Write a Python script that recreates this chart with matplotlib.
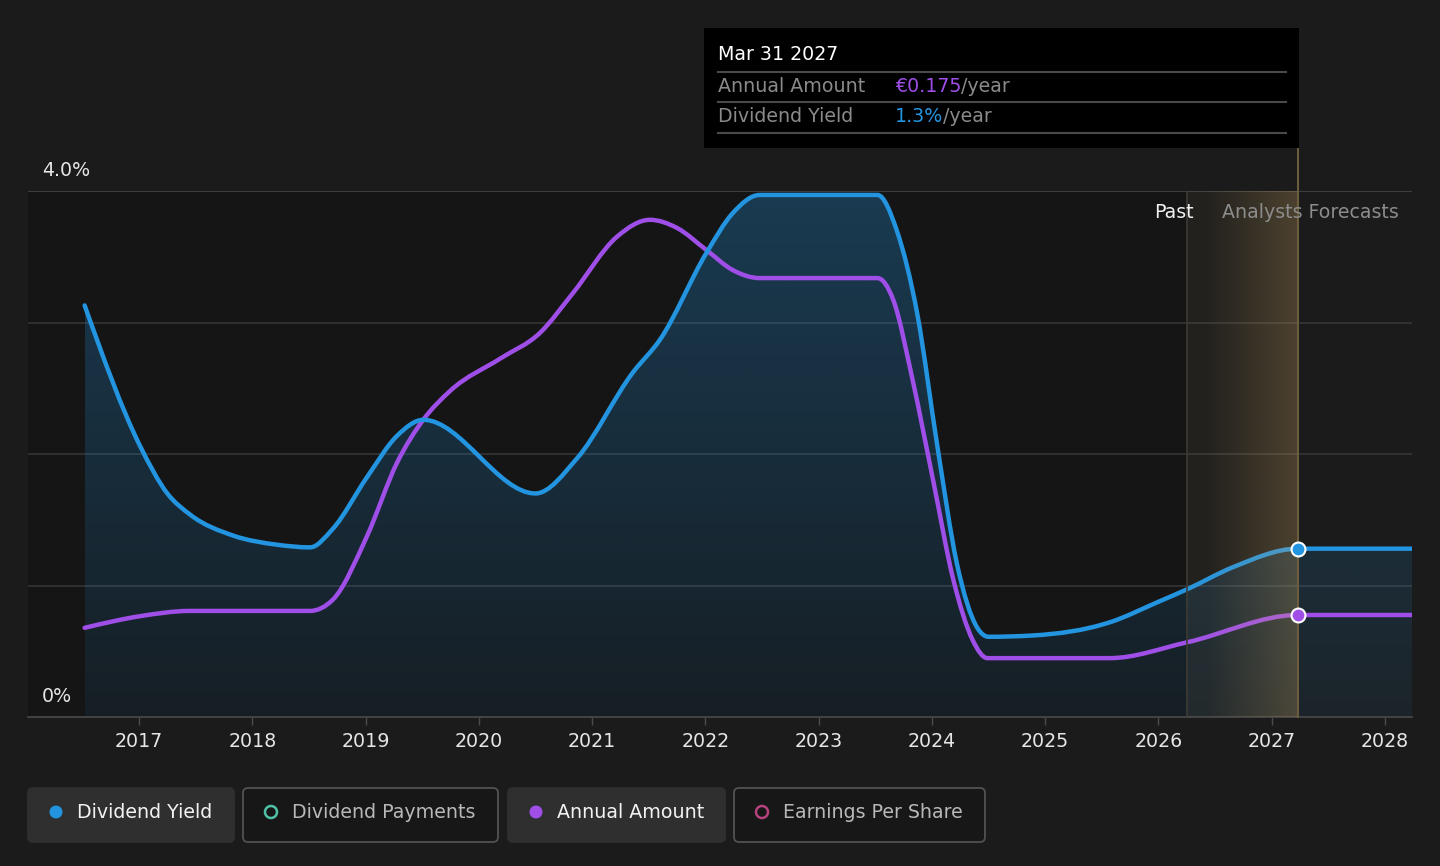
import numpy as np
import matplotlib
matplotlib.use('Agg')
import matplotlib.pyplot as plt
from matplotlib.path import Path
from matplotlib.patches import PathPatch, Rectangle, FancyBboxPatch, Circle
import matplotlib.transforms as mtransforms
from matplotlib.lines import Line2D
from matplotlib.text import Annotation

# ---------------- data ----------------
yield_years = [2016.52, 2017.01, 2017.25, 2017.45, 2017.83, 2018.22, 2018.51,
               2018.71, 2019.01, 2019.28, 2019.51, 2020.50, 2020.87, 2021.36,
               2021.60, 2022.01, 2022.24, 2022.48, 2023.52, 2023.69, 2023.87,
               2024.05, 2024.22, 2024.40, 2024.50, 2024.89, 2025.57, 2026.01, 2026.25,
               2026.66, 2027.23, 2028.24]
yield_pct = [3.13, 2.06, 1.70, 1.54, 1.38, 1.31, 1.29,
             1.43, 1.82, 2.14, 2.26, 1.70, 1.97, 2.62,
             2.87, 3.53, 3.83, 3.97, 3.97, 3.70, 3.07,
             2.05, 1.17, 0.68, 0.61, 0.62, 0.72, 0.88, 0.97,
             1.14, 1.28, 1.28]

amount_years = [2016.52, 2017.01, 2017.45, 2018.51, 2018.71, 2019.01, 2019.28, 2019.51,
                2019.75, 2020.19, 2020.54, 2020.83, 2021.22, 2021.51, 2021.75, 2022.01,
                2022.24, 2022.48, 2023.52, 2023.66, 2023.83, 2024.01, 2024.19, 2024.36,
                2024.49, 2025.57, 2026.25, 2027.23, 2028.24]
amount_eur = [0.153, 0.173, 0.182, 0.182, 0.201, 0.309, 0.437, 0.510,
              0.560, 0.615, 0.659, 0.727, 0.824, 0.853, 0.839, 0.801,
              0.767, 0.753, 0.753, 0.715, 0.578, 0.407, 0.235, 0.132,
              0.101, 0.101, 0.128, 0.175, 0.175]

tick_years = list(range(2017, 2029))
y_tick_labels = {0: '0%', 4: '4.0%'}
legend_labels = ['Dividend Yield', 'Dividend Payments', 'Annual Amount', 'Earnings Per Share']
tooltip_date = 'Mar 31 2027'
tooltip_rows = [('Annual Amount', '€0.175'), ('Dividend Yield', '1.3%')]
past_end = 2026.25
band_start = 2026.44
forecast_x = 2027.23
AMT_MAX = 0.9024   # top of the (hidden) annual amount scale, €
Y_MAX = 4.0

# ---------------- style ----------------
W, H = 1440, 866
BG = '#1b1b1b'
PAST_BG = '#151515'
BLUE = '#2394df'
PURPLE = '#9f4fe8'
TEAL = '#4fc1a6'
PINK = '#b4427e'
GRID = '#383838'
FS = 13.7

plt.rcParams['font.family'] = ['DejaVu Sans']

fig = plt.figure(figsize=(W / 100, H / 100), dpi=100, facecolor=BG)

def fx(px):
    return px / W

def fy(py):
    return 1 - py / H

ax_l, ax_r, ax_t, ax_b = 28, 1412, 191, 717
ax = fig.add_axes([fx(ax_l), fy(ax_b), fx(ax_r) - fx(ax_l), fy(ax_t) - fy(ax_b)])
ax.set_facecolor(BG)
px_per_year = 113.27
x_left = 2017 + (ax_l - 139) / px_per_year
x_right = 2017 + (ax_r - 139) / px_per_year

for s in ['top', 'left', 'right']:
    ax.spines[s].set_visible(False)
ax.spines['bottom'].set_color('#4a4a4a')
ax.spines['bottom'].set_linewidth(1.2)
ax.set_yticks([])
ax.set_xticks(tick_years)
ax.set_xticklabels([str(y) for y in tick_years])
ax.tick_params(axis='x', length=6, width=1, color='#4a4a4a', labelcolor='#e6e6e6',
               labelsize=FS, pad=5)

# past background
ax.add_patch(Rectangle((x_left, 0), past_end - x_left, Y_MAX, facecolor=PAST_BG,
                       edgecolor='none', zorder=0))
# gridlines
for g in [1, 2, 3, 4]:
    ax.axhline(g, color=GRID if g < 4 else '#4a4a4a', lw=1.1, zorder=1)


def monotone_path(x, y):
    x = np.asarray(x, float)
    y = np.asarray(y, float)
    n = len(x)
    h = np.diff(x)
    s = np.diff(y) / h
    t = np.zeros(n)
    for i in range(1, n - 1):
        p = (s[i - 1] * h[i] + s[i] * h[i - 1]) / (h[i - 1] + h[i])
        t[i] = (np.sign(s[i - 1]) + np.sign(s[i])) * min(abs(s[i - 1]), abs(s[i]), 0.5 * abs(p))
    t[0] = (3 * s[0] - t[1]) / 2
    t[-1] = (3 * s[-1] - t[-2]) / 2
    verts = [(x[0], y[0])]
    codes = [Path.MOVETO]
    for i in range(n - 1):
        d = h[i] / 3
        verts += [(x[i] + d, y[i] + d * t[i]), (x[i + 1] - d, y[i + 1] - d * t[i + 1]),
                  (x[i + 1], y[i + 1])]
        codes += [Path.CURVE4] * 3
    return verts, codes

# yield fill with vertical gradient (stronger at top)
yv, yc = monotone_path(yield_years, yield_pct)
fv = yv + [(yield_years[-1], 0), (yield_years[0], 0), (yield_years[0], yield_pct[0])]
fc = yc + [Path.LINETO, Path.LINETO, Path.CLOSEPOLY]
fill_patch = PathPatch(Path(fv, fc), facecolor='none', edgecolor='none', transform=ax.transData)
ax.add_patch(fill_patch)
grad = np.zeros((256, 2, 4))
grad[..., 0] = 35 / 255
grad[..., 1] = 148 / 255
grad[..., 2] = 223 / 255
grad[..., 3] = np.linspace(0.30, 0.08, 256)[:, None]
im = ax.imshow(grad, extent=(yield_years[0], yield_years[-1], 0, Y_MAX), origin='upper',
               aspect='auto', zorder=2, interpolation='bilinear')
im.set_clip_path(fill_patch)

# amount line (own scale)
amt_trans = mtransforms.Affine2D().scale(1, Y_MAX / AMT_MAX) + ax.transData
av, ac = monotone_path(amount_years, amount_eur)
ax.add_patch(PathPatch(Path(av, ac), facecolor='none', edgecolor=PURPLE, lw=3.2,
                       capstyle='round', joinstyle='round', transform=amt_trans, zorder=3))
# yield line
ax.add_patch(PathPatch(Path(yv, yc), facecolor='none', edgecolor=BLUE, lw=3.2,
                       capstyle='round', joinstyle='round', transform=ax.transData, zorder=4))

# forecast band
ax.add_patch(Rectangle((past_end, 0), band_start - past_end, Y_MAX, facecolor='#c8a060',
                       alpha=0.05, edgecolor='none', zorder=5))
bgrad = np.zeros((2, 256, 4))
bgrad[..., 0] = 210 / 255
bgrad[..., 1] = 170 / 255
bgrad[..., 2] = 100 / 255
bgrad[..., 3] = np.linspace(0.05, 0.27, 256)[None, :]
ax.imshow(bgrad, extent=(band_start, forecast_x, 0, Y_MAX), aspect='auto', zorder=5,
          interpolation='bilinear')

ax.axvline(past_end, color='#3e3b35', lw=1.2, zorder=6)
ax.plot([forecast_x, forecast_x], [0, Y_MAX * (ax_b - 148) / (ax_b - ax_t)], color='#6e5e3e',
        lw=1.4, zorder=6, clip_on=False)

ax.set_xlim(x_left, x_right)
ax.set_ylim(0, Y_MAX)

# markers at forecast point
fi = yield_years.index(forecast_x)
ai = amount_years.index(forecast_x)
ax.plot([forecast_x], [yield_pct[fi]], 'o', ms=10, mfc=BLUE, mec='white', mew=1.5, zorder=8,
        clip_on=False)
ax.plot([forecast_x], [amount_eur[ai]], 'o', ms=10, mfc=PURPLE, mec='white', mew=1.5,
        zorder=8, clip_on=False, transform=amt_trans)

# y labels
lab_x = (42 - ax_l) / (ax_r - ax_l)
for v, lab in y_tick_labels.items():
    ax.annotate(lab, xy=(lab_x, v), xycoords=('axes fraction', 'data'), xytext=(0, 21),
                textcoords='offset pixels', va='center', ha='left', color='#e6e6e6',
                fontsize=FS, zorder=9, annotation_clip=False)

# past / forecast labels
ax.annotate('Past', xy=(past_end, Y_MAX), xytext=(7, -21), textcoords='offset pixels',
            ha='right', va='center', color='#f0f0f0', fontsize=FS, zorder=9)
ax.annotate('Analysts Forecasts', xy=(past_end, Y_MAX), xytext=(35, -21),
            textcoords='offset pixels', ha='left', va='center', color='#8c8c8c',
            fontsize=FS, zorder=9)

# ---------------- tooltip ----------------
fig.patches.append(Rectangle((fx(704), fy(148)), fx(1299) - fx(704), fy(28) - fy(148),
                             transform=fig.transFigure, facecolor='black', edgecolor='none',
                             zorder=10))
fig.text(fx(718), fy(55), tooltip_date, color='white', fontsize=FS, va='center', ha='left',
         zorder=11)
for yy in [72, 102, 133]:
    fig.add_artist(Line2D([fx(718), fx(1286)], [fy(yy), fy(yy)], color='#4a4a4a', lw=1.5,
                          transform=fig.transFigure, zorder=11))
row_colors = [PURPLE, BLUE]
for (name, val), yy, col in zip(tooltip_rows, [86, 116], row_colors):
    fig.text(fx(718), fy(yy), name, color='#8a8a8a', fontsize=FS, va='center', ha='left',
             zorder=11)
    t1 = fig.text(fx(895), fy(yy), val, color=col, fontsize=FS, va='center', ha='left',
                  zorder=11)
    an = Annotation('/year', xy=(1, 0.5), xycoords=t1, va='center', ha='left',
                    color='#8a8a8a', fontsize=FS, annotation_clip=False)
    an.set_zorder(12)
    fig.add_artist(an)

# ---------------- legend ----------------
ident = mtransforms.IdentityTransform()
buttons = [(28, 234, True, BLUE), (243, 498, False, TEAL), (508, 725, True, PURPLE),
           (734, 985, False, PINK)]
by0, by1 = 788, 842
for (x0, x1, active, col), lab in zip(buttons, legend_labels):
    box = FancyBboxPatch((x0, H - by1), x1 - x0, by1 - by0,
                         boxstyle='round,pad=0,rounding_size=5',
                         facecolor='#2f2f2f' if active else '#171717',
                         edgecolor='#2f2f2f' if active else '#525252', lw=1.3,
                         transform=ident, zorder=2)
    fig.patches.append(box)
    cx = x0 + 28
    cy = H - 812
    if active:
        c = Circle((cx, cy), 6.5, facecolor=col, edgecolor='none', transform=ident, zorder=3)
    else:
        c = Circle((cx, cy), 6, facecolor='none', edgecolor=col, lw=1.8, transform=ident,
                   zorder=3)
    fig.patches.append(c)
    fig.text(fx(x0 + 49), fy(812), lab, color='#f2f2f2' if active else '#b8b8b8',
             fontsize=FS, va='center', ha='left', zorder=4)

fig.savefig('out.png', dpi=100, facecolor=BG)
